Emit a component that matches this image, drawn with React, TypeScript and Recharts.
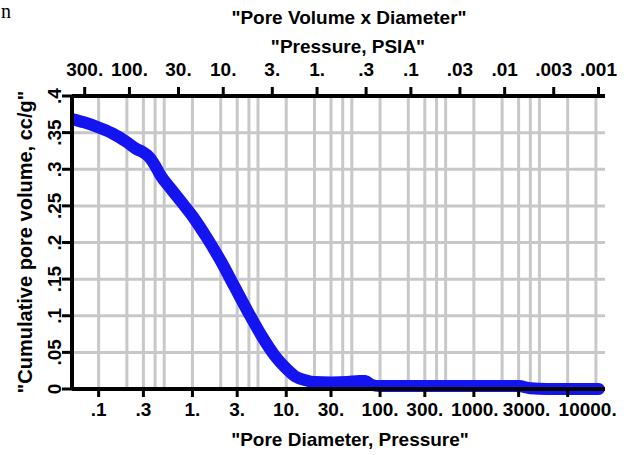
import React from 'react';
import { LineChart, Line, XAxis, YAxis, CartesianGrid } from 'recharts';

// pore diameter (bottom axis, log) and cumulative pore volume
const diameters = [0.053, 0.07, 0.1, 0.14, 0.2, 0.25, 0.3, 0.35, 0.4, 0.45, 0.6, 0.8, 1, 1.4, 2, 2.8, 4, 5.5, 7.5, 10, 12.5, 16, 20, 30, 45, 60, 70, 80, 100, 200, 500, 1000, 2000, 3000, 4000, 6000, 10000, 21500];
const volumes = [0.368, 0.364, 0.357, 0.349, 0.337, 0.328, 0.323, 0.316, 0.305, 0.293, 0.272, 0.252, 0.236, 0.208, 0.175, 0.14, 0.103, 0.072, 0.046, 0.028, 0.017, 0.012, 0.0095, 0.009, 0.0095, 0.011, 0.011, 0.006, 0.004, 0.004, 0.004, 0.004, 0.004, 0.004, 0.001, 0, 0, 0];

const diameterTicks = [0.1, 0.3, 1, 3, 10, 30, 100, 300, 1000, 3000, 10000];
const diameterLabels = ['.1', '.3', '1.', '3.', '10.', '30.', '100.', '300.', '1000.', '3000.', '10000.'];

const pressureTicks = [300, 100, 30, 10, 3, 1, 0.3, 0.1, 0.03, 0.01, 0.003, 0.001];
const pressureLabels = ['300.', '100.', '30.', '10.', '3.', '1.', '.3', '.1', '.03', '.01', '.003', '.001'];
const PD = 21.3; // pressure x diameter

const volumeTicks = [0, 0.05, 0.1, 0.15, 0.2, 0.25, 0.3, 0.35, 0.4];
const volumeLabels = ['0', '.05', '.1', '.15', '.2', '.25', '.3', '.35', '.4'];

const data = diameters.map((d, i) => ({ d, v: volumes[i] }));

const X_DOMAIN = [0.052, 25000];

// gray grid at 1,2,3,4,5 of each decade
const gridX: number[] = [];
for (let e = -2; e <= 4; e++) {
  [1, 2, 3, 4, 5].forEach((m) => {
    const v = m * Math.pow(10, e);
    if (v > X_DOMAIN[0] && v < X_DOMAIN[1]) gridX.push(v);
  });
}
const gridY = volumeTicks.slice(1, -1);

const font = '"Liberation Sans", Arial, sans-serif';

// last bottom labels are nudged right so they don't run into each other
const bottomLabelShift = [0, 0, 0, 0, 0, 0, 0, 0, 1, 8, 20];

const XTick = (props: any) => {
  const { x, y, index } = props;
  return (
    <text x={x + (bottomLabelShift[index] || 0)} y={y} dy="0.71em" textAnchor="middle"
      fontFamily={font} fontWeight="bold" fontSize={19} fill="#000">
      {diameterLabels[index]}
    </text>
  );
};

const YTick = (props: any) => {
  const { x, y, payload, index } = props;
  return (
    <text x={x} y={y} transform={`rotate(-90, ${x}, ${y})`} textAnchor="middle"
      fontFamily={font} fontWeight="bold" fontSize={19} fill="#000">
      {volumeLabels[index] ?? payload.value}
    </text>
  );
};

const title: React.CSSProperties = {
  position: 'absolute', fontFamily: font, fontWeight: 'bold', fontSize: 19,
  whiteSpace: 'nowrap', color: '#000', lineHeight: '22px',
};

export default function App() {
  const tickStyle = { fontFamily: font, fontWeight: 'bold', fontSize: 19, fill: '#000' };
  return (
    <div style={{ position: 'absolute', left: 0, top: 0, width: 638, height: 455, background: '#fff' }}>
      <span style={{ position: 'absolute', left: 1, top: 0, fontFamily: 'serif', fontSize: 20, lineHeight: '22px' }}>n</span>
      <div style={{ ...title, left: 349, top: 7, transform: 'translateX(-50%)' }}>"Pore Volume x Diameter"</div>
      <div style={{ ...title, left: 348, top: 36, transform: 'translateX(-50%)' }}>"Pressure, PSIA"</div>
      <div style={{ ...title, left: 350, top: 429, transform: 'translateX(-50%)' }}>"Pore Diameter, Pressure"</div>
      <div style={{ ...title, fontSize: 20, left: 25, top: 242, transform: 'translate(-50%, -50%) rotate(-90deg)' }}>"Cumulative pore volume, cc/g"</div>
      <div style={{ position: 'absolute', left: 0, top: 0 }}>
        <LineChart width={638} height={455} data={data} margin={{ top: 0, right: 33, bottom: 0, left: 0 }}>
          <CartesianGrid xAxisId="bottom" stroke="#c8c8c8" strokeWidth={3}
            verticalValues={gridX} horizontalValues={gridY} />
          <XAxis xAxisId="bottom" dataKey="d" type="number" scale="log" domain={X_DOMAIN} allowDataOverflow
            ticks={diameterTicks} interval={0} height={66} tickSize={8} tickMargin={6}
            tick={<XTick />} axisLine={{ stroke: '#000', strokeWidth: 4 }} tickLine={{ stroke: '#000', strokeWidth: 3 }} />
          <XAxis xAxisId="top" orientation="top" dataKey="d" type="number" scale="log" domain={X_DOMAIN} allowDataOverflow
            ticks={pressureTicks.map((p) => PD / p)} interval={0} height={96} tickSize={9} tickMargin={11}
            tickFormatter={(v: number, i: number) => pressureLabels[i] ?? String(v)}
            tick={tickStyle} axisLine={{ stroke: '#000', strokeWidth: 4 }} tickLine={{ stroke: '#000', strokeWidth: 3 }} />
          <YAxis type="number" domain={[0, 0.4]} ticks={volumeTicks} interval={0} width={72}
            tickSize={10} tickMargin={1} tick={<YTick />}
            axisLine={{ stroke: '#000', strokeWidth: 4 }} tickLine={{ stroke: '#000', strokeWidth: 3 }} />
          <Line xAxisId="top" dataKey="v" stroke="none" dot={false} activeDot={false} isAnimationActive={false} />
          <Line xAxisId="bottom" type="monotone" dataKey="v" stroke="#1414f0" strokeWidth={12}
            strokeLinecap="round" strokeLinejoin="round" dot={false} activeDot={false} isAnimationActive={false} />
        </LineChart>
      </div>
    </div>
  );
}
